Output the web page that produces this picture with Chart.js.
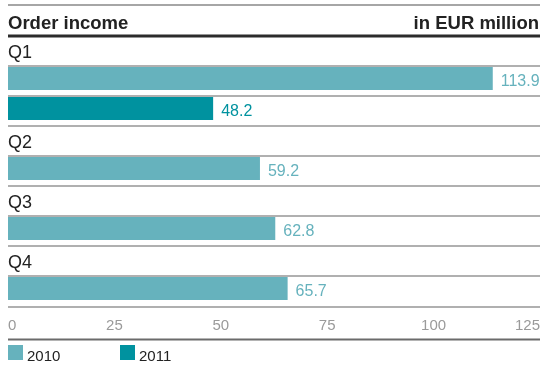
<!DOCTYPE html>
<html>
<head>
<meta charset="utf-8">
<script src="https://cdn.jsdelivr.net/npm/chart.js@4/dist/chart.umd.min.js"></script>
<style>
html,body{margin:0;padding:0;background:#fff;}
#wrap{position:relative;width:541px;height:365px;}
</style>
</head>
<body>
<div id="wrap"><canvas id="c" width="541" height="365"></canvas></div>
<script>
const title = "Order income";
const unit = "in EUR million";
const quarters = ["Q1", "Q2", "Q3", "Q4"];
const seriesNames = ["2010", "2011"];
const values2010 = [113.9, 59.2, 62.8, 65.7];
const values2011 = [48.2, null, null, null];
const xTicks = [0, 25, 50, 75, 100, 125];
const colors = ["#66b2bd", "#00929f"];

// Build rows: a label row per quarter, then one row per available series value
const rowLabels = [];
const rowKinds = [];
const data2010 = [];
const data2011 = [];
quarters.forEach((q, i) => {
  rowLabels.push(q); rowKinds.push("label"); data2010.push(null); data2011.push(null);
  if (values2010[i] !== null) { rowLabels.push(q + " " + seriesNames[0]); rowKinds.push("bar"); data2010.push(values2010[i]); data2011.push(null); }
  if (values2011[i] !== null) { rowLabels.push(q + " " + seriesNames[1]); rowKinds.push("bar"); data2010.push(null); data2011.push(values2011[i]); }
});

const FONT = "'Liberation Sans', Arial, Helvetica, sans-serif";

const decor = {
  id: "decor",
  afterDatasetsDraw(chart) {
    const ctx = chart.ctx;
    const area = chart.chartArea;
    const y = chart.scales.y;
    const rowH = (area.bottom - area.top) / rowLabels.length;
    const L = 8, R = 540;
    ctx.save();
    // top thin line
    ctx.fillStyle = "#a6a6a6";
    ctx.fillRect(L, 4, R - L, 2);
    // title
    ctx.fillStyle = "#222";
    ctx.font = "bold 18.5px " + FONT;
    ctx.textBaseline = "alphabetic";
    ctx.textAlign = "left";
    ctx.fillText(title, L, 29);
    ctx.textAlign = "right";
    ctx.fillText(unit, R - 1, 29);
    // thick header line
    ctx.fillStyle = "#2b2b2b";
    ctx.fillRect(L, 34.5, R - L, 3);
    // row separators and quarter labels
    rowLabels.forEach((lab, i) => {
      const top = y.getPixelForValue(i) - rowH / 2;
      if (rowKinds[i] === "label") {
        ctx.fillStyle = "#222";
        ctx.font = "18px " + FONT;
        ctx.textAlign = "left";
        ctx.textBaseline = "alphabetic";
        ctx.fillText(lab, L, top + 24);
      }
      if (i > 0) {
        ctx.fillStyle = "#b0b0b0";
        ctx.fillRect(L, top + 1.5, R - L, 2);
      }
    });
    const lastBottom = area.bottom + 2.5;
    ctx.fillStyle = "#b0b0b0";
    ctx.fillRect(L, lastBottom, R - L, 2);
    // value labels
    ctx.font = "16px " + FONT;
    ctx.textAlign = "left";
    ctx.textBaseline = "middle";
    chart.data.datasets.forEach((ds, di) => {
      const meta = chart.getDatasetMeta(di);
      meta.data.forEach((bar, i) => {
        const v = ds.data[i];
        if (v === null || v === undefined) return;
        ctx.fillStyle = colors[di];
        ctx.fillText(v.toFixed(1), bar.x + 8, bar.y + 3.5);
      });
    });
    // bottom thick line
    ctx.fillStyle = "#6b6b6b";
    ctx.fillRect(L, 338.5, R - L, 2);
    // legend
    ctx.font = "15px " + FONT;
    ctx.textBaseline = "alphabetic";
    const legX = [L, 120];
    seriesNames.forEach((n, i) => {
      ctx.fillStyle = colors[i];
      ctx.fillRect(legX[i], 345, 15, 15);
      ctx.fillStyle = "#222";
      ctx.fillText(n, legX[i] + 19, 361);
    });
    ctx.restore();
  }
};

new Chart(document.getElementById("c"), {
  type: "bar",
  data: {
    labels: rowLabels,
    datasets: [
      { label: seriesNames[0], data: data2010, backgroundColor: colors[0], grouped: false, barPercentage: 0.77, categoryPercentage: 1 },
      { label: seriesNames[1], data: data2011, backgroundColor: colors[1], grouped: false, barPercentage: 0.77, categoryPercentage: 1 }
    ]
  },
  options: {
    indexAxis: "y",
    responsive: false,
    animation: false,
    events: [],
    layout: { padding: { left: 8, right: 1, top: 33.5, bottom: 25.5 } },
    plugins: { legend: { display: false }, tooltip: { enabled: false } },
    scales: {
      y: { display: false, offset: true },
      x: {
        min: 0, max: 125,
        afterBuildTicks: s => { s.ticks = xTicks.map(v => ({ value: v })); },
        afterFit: s => { s.height = 36; s.paddingLeft = 0; s.paddingRight = 0; },
        grid: { display: false, drawTicks: false },
        border: { display: false },
        ticks: { color: "#9a9a9a", font: { family: FONT, size: 15 }, padding: 13, align: "inner", maxRotation: 0, autoSkip: false }
      }
    }
  },
  plugins: [decor]
});
</script>
</body>
</html>
